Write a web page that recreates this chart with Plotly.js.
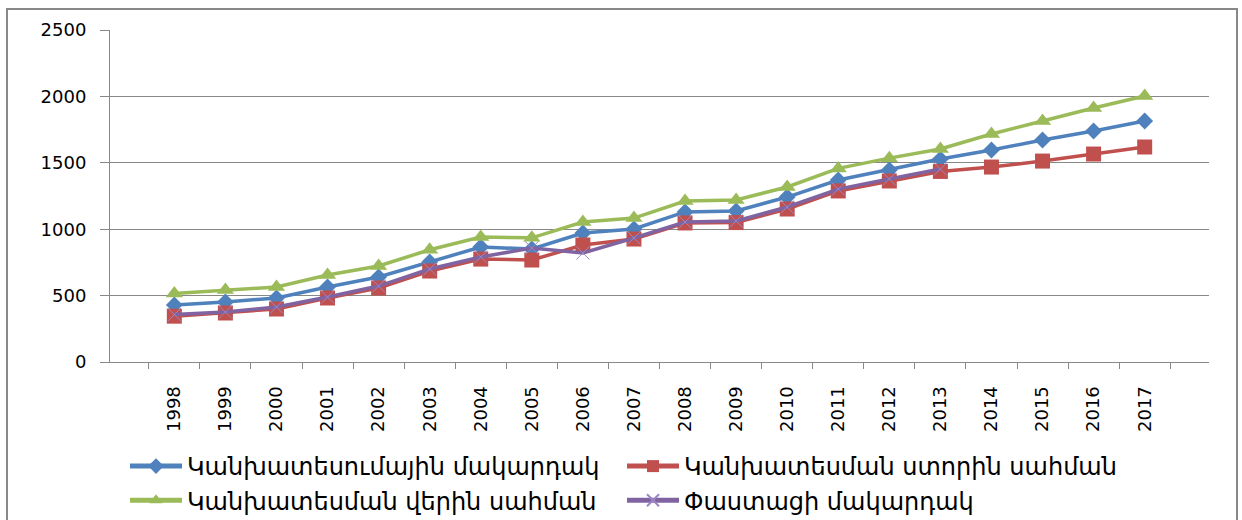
<!DOCTYPE html>
<html>
<head>
<meta charset="utf-8">
<script src="https://cdn.plot.ly/plotly-3.0.1.min.js"></script>
<style>html,body{margin:0;padding:0;background:#fff;}#chart{width:1242px;height:520px;}</style>
</head>
<body>
<div id="chart"></div>
<script>
const years = ['1998','1999','2000','2001','2002','2003','2004','2005','2006','2007','2008','2009','2010','2011','2012','2013','2014','2015','2016','2017'];
const forecast = [430,452,482,565,640,753,866,851,971,1002,1130,1137,1242,1370,1446,1528,1596,1672,1740,1815];
const lowerBound = [345,369,399,482,557,685,775,768,881,926,1047,1050,1152,1288,1363,1435,1468,1513,1566,1619];
const upperBound = [515,542,565,655,723,845,941,935,1054,1084,1212,1220,1318,1458,1535,1604,1717,1815,1913,2003];
const actualYears = ['1998','1999','2000','2001','2002','2003','2004','2005','2006','2007','2008','2009','2010','2011','2012','2013'];
const actual = [357,376,414,489,572,700,791,858,821,934,1054,1062,1167,1302,1378,1453];
const names = ['Կանխատեսումային մակարդակ','Կանխատեսման ստորին սահման','Կանխատեսման վերին սահման','Փաստացի մակարդակ'];

const traces = [
  {x: years, y: forecast, name: names[0], legend: 'legend', legendrank: 1, mode: 'lines+markers', line: {color: '#4F81BD', width: 3.5}, marker: {symbol: 'diamond', size: 13, color: '#4F81BD'}},
  {x: years, y: lowerBound, name: names[1], legend: 'legend2', legendrank: 1, mode: 'lines+markers', line: {color: '#C0504D', width: 3.5}, marker: {symbol: 'square', size: 15, color: '#C0504D'}},
  {x: years, y: upperBound, name: names[2], legend: 'legend', legendrank: 2, mode: 'lines+markers', line: {color: '#9BBB59', width: 3.5}, marker: {symbol: 'triangle-up', size: 15, color: '#9BBB59'}},
  {x: actualYears, y: actual, name: names[3], legend: 'legend2', legendrank: 2, mode: 'lines+markers', line: {color: '#8064A2', width: 3.5}, marker: {symbol: 'x-thin-open', size: 13, color: '#9D86C4', line: {color: '#9D86C4', width: 1}}}
];

const legendBase = {
  orientation: 'v', xref: 'container', yref: 'container',
  xanchor: 'left', yanchor: 'top', itemwidth: 52, itemsizing: 'constant',
  font: {family: 'DejaVu Sans, sans-serif', size: 24, color: '#000'},
  tracegroupgap: 0, bgcolor: 'rgba(0,0,0,0)', borderwidth: 0
};

const layout = {
  width: 1242, height: 520,
  margin: {l: 110, r: 33, t: 30, b: 158, autoexpand: false},
  paper_bgcolor: '#ffffff', plot_bgcolor: '#ffffff',
  font: {family: 'DejaVu Sans, sans-serif', size: 18, color: '#000'},
  showlegend: true,
  legend: Object.assign({}, legendBase, {x: 125/1242, y: 1 - 444/520}),
  legend2: Object.assign({}, legendBase, {x: 622/1242, y: 1 - 444/520}),
  xaxis: {
    type: 'category', tickson: 'boundaries', ticks: 'outside', ticklen: 6, tickcolor: '#888',
    showline: true, linecolor: '#888', linewidth: 1, showgrid: false, tickangle: -90,
    tickfont: {size: 18}, zeroline: false, ticklabelstandoff: 16, automargin: false
  },
  yaxis: {
    range: [0, 2500], tickvals: [0,500,1000,1500,2000,2500], ticks: 'outside', ticklen: 9, tickcolor: '#888',
    showline: true, linecolor: '#888', linewidth: 1, gridcolor: '#888', gridwidth: 1,
    tickfont: {size: 18}, zeroline: false, ticklabelstandoff: 10, automargin: false
  },
  shapes: [{type: 'rect', xref: 'paper', yref: 'paper', x0: (7-110)/1099, x1: (1237-110)/1099, y0: -0.6, y1: (362-9)/332, line: {color: '#888', width: 2}, fillcolor: 'rgba(0,0,0,0)', layer: 'below'}]
};

Plotly.newPlot('chart', traces, layout, {displayModeBar: false, staticPlot: true});
</script>
</body>
</html>
